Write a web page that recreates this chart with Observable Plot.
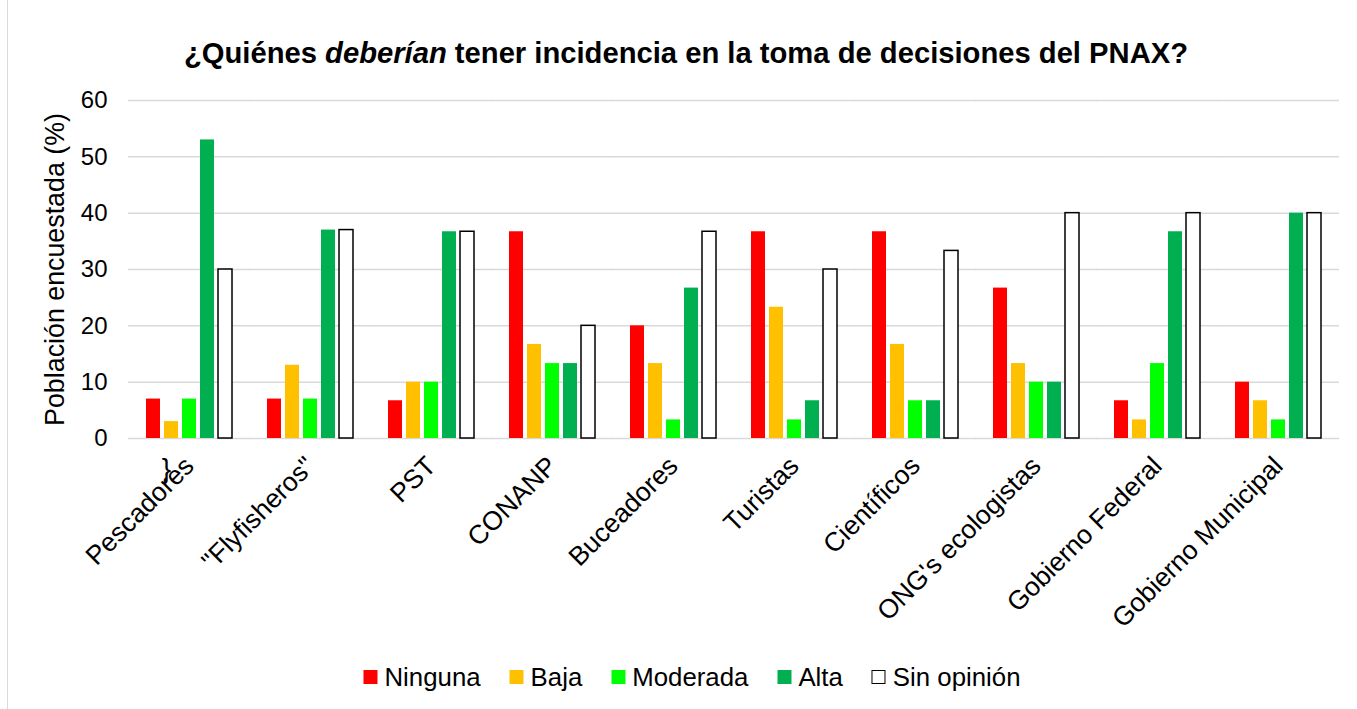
<!DOCTYPE html>
<html>
<head>
<meta charset="utf-8">
<script src="https://cdn.jsdelivr.net/npm/d3@7"></script>
<script src="https://cdn.jsdelivr.net/npm/@observablehq/plot@0.6"></script>
<style>
  html, body { margin: 0; padding: 0; background: #fff; }
  body { width: 1357px; height: 709px; position: relative; overflow: hidden; font-family: "Liberation Sans", Arial, sans-serif; }
  #frame { position: absolute; left: 7px; top: 0; width: 1px; height: 709px; background: #d9d9d9; }
  #title { position: absolute; top: 39px; left: 686px; transform: translateX(-50%); white-space: nowrap; font-weight: bold; font-size: 29.2px; line-height: 29px; color: #000; }
  #chart { position: absolute; top: 80px; left: 0; }
  #legend { position: absolute; top: 664px; left: 692px; transform: translateX(-50%); display: flex; align-items: center; white-space: nowrap; font-size: 25.8px; line-height: 26px; color: #000; }
  .item { display: flex; align-items: center; margin-right: 29px; }
  .item:last-child { margin-right: 0; }
  .sw { width: 14px; height: 14px; margin-right: 7px; box-sizing: border-box; }
</style>
</head>
<body>
<div id="frame"></div>
<div id="title">¿Quiénes <i>deberían</i> tener incidencia en la toma de decisiones del PNAX?</div>
<div id="chart"></div>
<div id="legend"></div>
<script>
const categories = ["Pescadores", "\"Flyfisheros\"", "PST", "CONANP", "Buceadores", "Turistas", "Científicos", "ONG's ecologistas", "Gobierno Federal", "Gobierno Municipal"];
const series = ["Ninguna", "Baja", "Moderada", "Alta", "Sin opinión"];
const ninguna    = [7, 7, 6.7, 36.7, 20, 36.7, 36.7, 26.7, 6.7, 10];
const baja       = [3, 13, 10, 16.7, 13.3, 23.3, 16.7, 13.3, 3.3, 6.7];
const moderada   = [7, 7, 10, 13.3, 3.3, 3.3, 6.7, 10, 13.3, 3.3];
const alta       = [53, 37, 36.7, 13.3, 26.7, 6.7, 6.7, 10, 36.7, 40];
const sinOpinion = [30, 37, 36.7, 20, 36.7, 30, 33.3, 40, 40, 40];
const colors = ["#FF0000", "#FFC000", "#00FF00", "#00B050", "#FFFFFF"];
const yTicks = [0, 10, 20, 30, 40, 50, 60];
const yLabel = "Población encuestada (%)";
const strayMark = "}";

const valuesBySeries = [ninguna, baja, moderada, alta, sinOpinion];
const data = [];
categories.forEach((cat, i) => {
  series.forEach((s, j) => data.push({cat, series: s, value: valuesBySeries[j][i]}));
});

const chart = Plot.plot({
  width: 1357,
  height: 560,
  marginTop: 20,
  marginBottom: 202,
  marginLeft: 127,
  marginRight: 18,
  style: {background: "transparent", overflow: "visible", fontFamily: "'Liberation Sans', Arial, sans-serif", color: "#000"},
  fx: {domain: categories, paddingInner: 0.26, paddingOuter: 0.13, axis: null},
  x: {domain: series, paddingInner: 0.214, paddingOuter: 0, axis: null},
  y: {domain: [0, 60], axis: null},
  color: {domain: series, range: colors},
  marks: [
    Plot.ruleY(yTicks, {y: d => d, stroke: "#d9d9d9", strokeWidth: 1.5, insetLeft: -16, insetRight: -16}),
    Plot.barY(data, {fx: "cat", x: "series", y: "value", fill: "series"}),
    Plot.barY(data.filter(d => d.series === "Sin opinión"), {fx: "cat", x: "series", y: "value", fill: "none", stroke: "#000", strokeWidth: 1.5}),
    Plot.axisY({ticks: yTicks, tickSize: 0, tickPadding: 37, fontSize: 24, label: null}),
    Plot.axisY({ticks: [], label: yLabel, labelAnchor: "center", labelOffset: 100, fontSize: 26.8, labelArrow: false}),
    Plot.axisFx({anchor: "bottom", tickRotate: -45, tickSize: 0, tickPadding: 23, fontSize: 26.5, label: null, textAnchor: "end"}),
    Plot.text([{cat: categories[0]}], {fx: "cat", frameAnchor: "bottom", text: () => strayMark, dx: -23, dy: 39, fontSize: 28})
  ]
});
document.getElementById("chart").appendChild(chart);

const legend = document.getElementById("legend");
series.forEach((s, j) => {
  const item = document.createElement("div");
  item.className = "item";
  const sw = document.createElement("div");
  sw.className = "sw";
  sw.style.background = colors[j];
  if (s === "Sin opinión") sw.style.border = "1.5px solid #000";
  const t = document.createElement("span");
  t.textContent = s;
  item.appendChild(sw);
  item.appendChild(t);
  legend.appendChild(item);
});
</script>
</body>
</html>
